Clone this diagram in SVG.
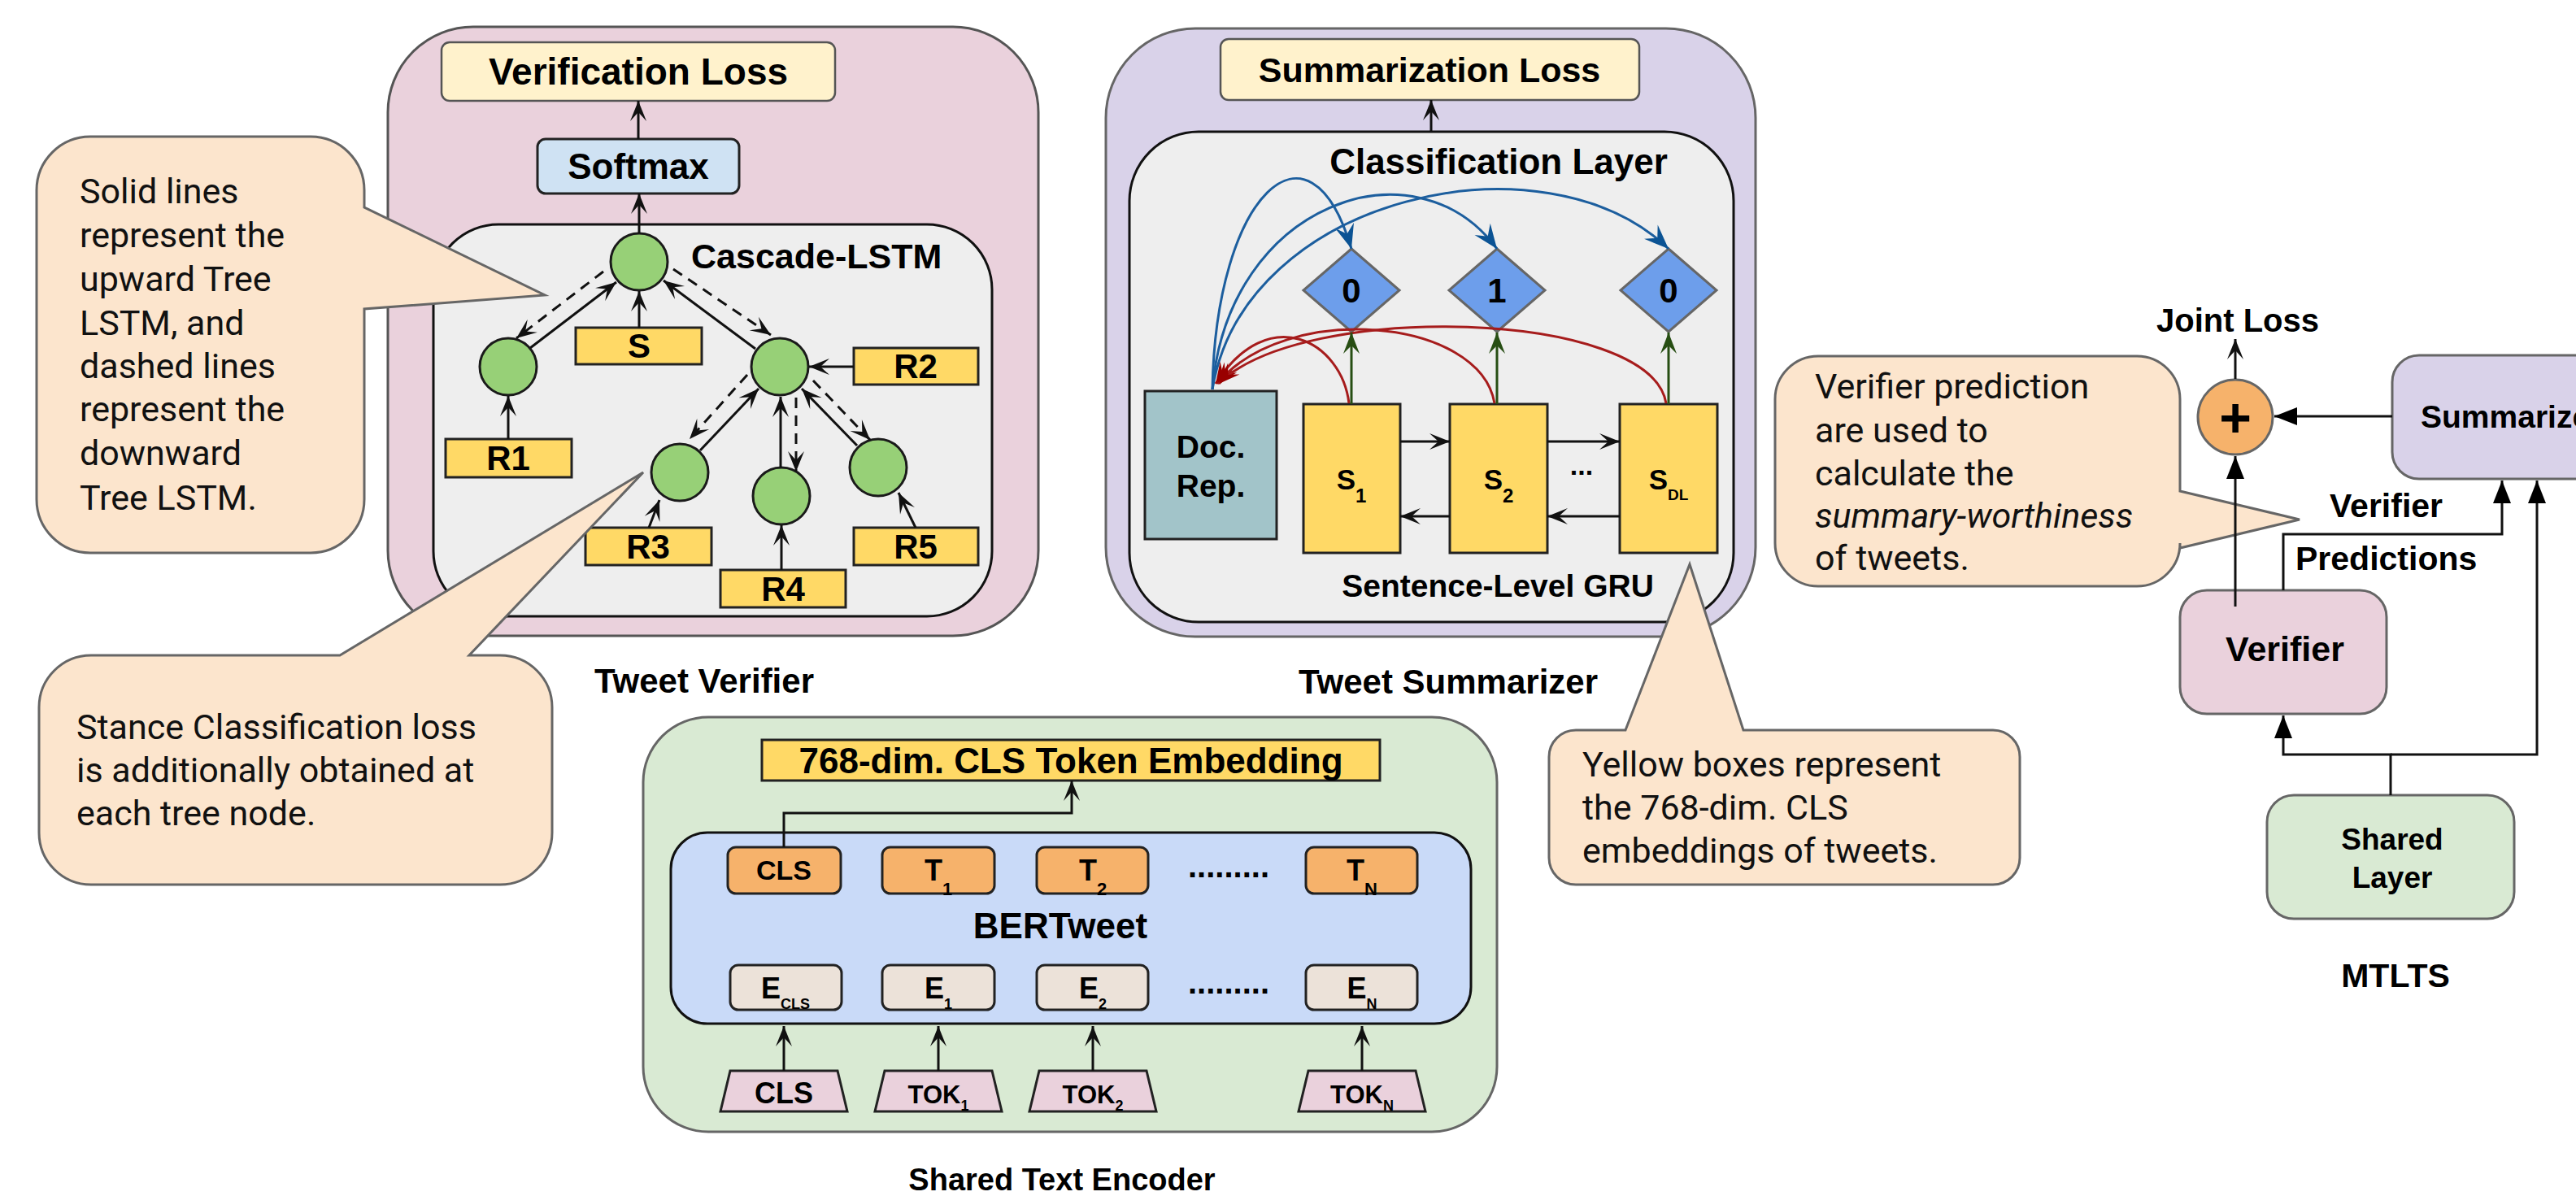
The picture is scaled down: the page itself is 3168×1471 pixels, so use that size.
<svg xmlns="http://www.w3.org/2000/svg" width="3168" height="1471" viewBox="0 0 3168 1471">
  <defs>
    <style>
      .b { font-family: "Liberation Sans", Arial, sans-serif; font-weight: bold; fill: #000; }
      .note { font-family: Roboto, "Noto Sans", sans-serif; font-size: 43px; fill: #111; }
      .ln { fill: none; stroke: #111; stroke-width: 3; }
      .dash { fill: none; stroke: #111; stroke-width: 3; stroke-dasharray: 13 9; }
      .ybox { fill: #FFD966; stroke: #222; stroke-width: 3; }
      .node { fill: #97D077; stroke: #1a1a1a; stroke-width: 3; }
      .callout { fill: #FCE5CD; stroke: #666; stroke-width: 3; }
      .tbox { fill: #F6B26B; stroke: #222; stroke-width: 3; }
      .ebox { fill: #ECE2D9; stroke: #222; stroke-width: 3; }
      .tok { fill: #EAD1DC; stroke: #222; stroke-width: 3; }
      .dia { fill: #6D9EEB; stroke: #666; stroke-width: 3; }
    </style>
    <marker id="arr" markerUnits="userSpaceOnUse" viewBox="-28 -12 30 24" refX="0" refY="0" markerWidth="30" markerHeight="24" orient="auto">
      <path d="M0,0 L-25,-10 L-14,0 L-25,10 Z" fill="#111"/>
    </marker>
    <marker id="arrB" markerUnits="userSpaceOnUse" viewBox="-32 -14 34 28" refX="0" refY="0" markerWidth="34" markerHeight="28" orient="auto">
      <path d="M0,0 L-30,-12 L-19,0 L-30,12 Z" fill="#0B5394"/>
    </marker>
    <marker id="arrG" markerUnits="userSpaceOnUse" viewBox="-30 -13 32 26" refX="0" refY="0" markerWidth="32" markerHeight="26" orient="auto">
      <path d="M0,0 L-26,-10 L-16,0 L-26,10 Z" fill="#274E13"/>
    </marker>
    <marker id="arrR" markerUnits="userSpaceOnUse" viewBox="-30 -13 32 26" refX="0" refY="0" markerWidth="32" markerHeight="26" orient="auto">
      <path d="M0,0 L-26,-10 L-16,0 L-26,10 Z" fill="#990000"/>
    </marker>
    <marker id="blk" markerUnits="userSpaceOnUse" viewBox="-30 -13 32 26" refX="0" refY="0" markerWidth="32" markerHeight="26" orient="auto">
      <path d="M0,0 L-28,-11 L-28,11 Z" fill="#000"/>
    </marker>
  </defs>

  <rect width="3168" height="1471" fill="#fff"/>

  <!-- ============ Tweet Verifier ============ -->
  <g id="tweet-verifier">
    <rect x="477" y="33" width="800" height="749" rx="105" fill="#EAD1DC" stroke="#555" stroke-width="3"/>
    <text class="b" x="866" y="852" font-size="42" text-anchor="middle">Tweet Verifier</text>
  </g>
  <g id="verification-loss">
    <rect x="543" y="52" width="484" height="72" rx="10" fill="#FFF2CC" stroke="#555" stroke-width="2.5"/>
    <text class="b" x="785" y="104" font-size="46" text-anchor="middle">Verification Loss</text>
  </g>
  <g id="softmax">
    <rect x="661" y="171" width="248" height="67" rx="10" fill="#CFE2F3" stroke="#222" stroke-width="3"/>
    <text class="b" x="785" y="220" font-size="44" text-anchor="middle">Softmax</text>
  </g>
  <g id="cascade-lstm">
    <rect x="533" y="276" width="687" height="482" rx="80" fill="#EEEEEE" stroke="#111" stroke-width="3"/>
    <text class="b" x="850" y="330" font-size="43">Cascade-LSTM</text>
  </g>
  <g id="tree-root"><circle class="node" cx="786" cy="322" r="35"/></g>
  <g id="tree-left"><circle class="node" cx="625" cy="451" r="35"/></g>
  <g id="tree-right"><circle class="node" cx="959" cy="451" r="35"/></g>
  <g id="tree-n3"><circle class="node" cx="836" cy="581" r="35"/></g>
  <g id="tree-n4"><circle class="node" cx="961" cy="610" r="35"/></g>
  <g id="tree-n5"><circle class="node" cx="1080" cy="575" r="35"/></g>
  <g id="box-s">
    <rect class="ybox" x="708" y="403" width="155" height="45"/>
    <text class="b" x="786" y="440" font-size="42" text-anchor="middle">S</text>
  </g>
  <g id="box-r1">
    <rect class="ybox" x="548" y="540" width="155" height="47"/>
    <text class="b" x="625" y="578" font-size="42" text-anchor="middle">R1</text>
  </g>
  <g id="box-r2">
    <rect class="ybox" x="1050" y="428" width="153" height="45"/>
    <text class="b" x="1126" y="465" font-size="42" text-anchor="middle">R2</text>
  </g>
  <g id="box-r3">
    <rect class="ybox" x="720" y="649" width="155" height="46"/>
    <text class="b" x="797" y="687" font-size="42" text-anchor="middle">R3</text>
  </g>
  <g id="box-r4">
    <rect class="ybox" x="886" y="701" width="154" height="46"/>
    <text class="b" x="963" y="739" font-size="42" text-anchor="middle">R4</text>
  </g>
  <g id="box-r5">
    <rect class="ybox" x="1050" y="649" width="153" height="46"/>
    <text class="b" x="1126" y="687" font-size="42" text-anchor="middle">R5</text>
  </g>

  <!-- ============ Tweet Summarizer ============ -->
  <g id="tweet-summarizer">
    <rect x="1360" y="35" width="799" height="748" rx="110" fill="#D9D2E9" stroke="#666" stroke-width="3"/>
    <text class="b" x="1781" y="853" font-size="42" text-anchor="middle">Tweet Summarizer</text>
  </g>
  <g id="summarization-loss">
    <rect x="1501" y="48" width="515" height="75" rx="10" fill="#FFF2CC" stroke="#555" stroke-width="2.5"/>
    <text class="b" x="1758" y="101" font-size="43" text-anchor="middle">Summarization Loss</text>
  </g>
  <g id="classification-layer">
    <rect x="1389" y="162" width="743" height="603" rx="85" fill="#EEEEEE" stroke="#111" stroke-width="3"/>
    <text class="b" x="1843" y="214" font-size="44" text-anchor="middle">Classification Layer</text>
    <text class="b" x="1842" y="734" font-size="39" text-anchor="middle">Sentence-Level GRU</text>
  </g>
  <g id="label-1">
    <polygon class="dia" points="1662,306 1721,357 1662,408 1603,357"/>
    <text class="b" x="1662" y="372" font-size="42" text-anchor="middle">0</text>
  </g>
  <g id="label-2">
    <polygon class="dia" points="1841,306 1900,357 1841,408 1782,357"/>
    <text class="b" x="1841" y="372" font-size="42" text-anchor="middle">1</text>
  </g>
  <g id="label-3">
    <polygon class="dia" points="2052,306 2111,357 2052,408 1993,357"/>
    <text class="b" x="2052" y="372" font-size="42" text-anchor="middle">0</text>
  </g>
  <g id="doc-rep">
    <rect x="1408" y="481" width="162" height="182" fill="#A2C4C9" stroke="#222" stroke-width="3"/>
    <text class="b" x="1489" y="563" font-size="39" text-anchor="middle">Doc.</text>
    <text class="b" x="1489" y="611" font-size="39" text-anchor="middle">Rep.</text>
  </g>
  <g id="sent-1">
    <rect class="ybox" x="1603" y="497" width="119" height="183"/>
    <text class="b" x="1662" y="602" font-size="35" text-anchor="middle">S<tspan font-size="24" dy="16">1</tspan></text>
  </g>
  <g id="sent-2">
    <rect class="ybox" x="1783" y="497" width="120" height="183"/>
    <text class="b" x="1843" y="602" font-size="35" text-anchor="middle">S<tspan font-size="24" dy="16">2</tspan></text>
  </g>
  <g id="sent-dl">
    <rect class="ybox" x="1992" y="497" width="120" height="183"/>
    <text class="b" x="2052" y="602" font-size="35" text-anchor="middle">S<tspan font-size="19" dy="13">DL</tspan></text>
  </g>
  <text class="b" x="1945" y="584" font-size="34" text-anchor="middle">...</text>

  <!-- ============ Shared Text Encoder ============ -->
  <g id="shared-text-encoder">
    <rect x="791" y="882" width="1050" height="510" rx="80" fill="#D9EAD3" stroke="#666" stroke-width="3"/>
    <text class="b" x="1306" y="1464" font-size="38" text-anchor="middle">Shared Text Encoder</text>
  </g>
  <g id="cls-embedding">
    <rect class="ybox" x="937" y="910" width="760" height="50"/>
    <text class="b" x="1317" y="951" font-size="44" text-anchor="middle">768-dim. CLS Token Embedding</text>
  </g>
  <g id="bertweet">
    <rect x="825" y="1024" width="984" height="235" rx="45" fill="#C9DAF8" stroke="#111" stroke-width="3"/>
    <text class="b" x="1304" y="1154" font-size="44" text-anchor="middle">BERTweet</text>
    <text class="b" x="1511" y="1079" font-size="40" text-anchor="middle">.........</text>
    <text class="b" x="1511" y="1222" font-size="40" text-anchor="middle">.........</text>
  </g>
  <g id="out-cls">
    <rect class="tbox" x="895" y="1042" width="139" height="57" rx="10"/>
    <text class="b" x="964" y="1082" font-size="34" text-anchor="middle">CLS</text>
  </g>
  <g id="out-t1">
    <rect class="tbox" x="1085" y="1042" width="138" height="57" rx="10"/>
    <text class="b" x="1154" y="1083" font-size="36" text-anchor="middle">T<tspan font-size="22" dy="18">1</tspan></text>
  </g>
  <g id="out-t2">
    <rect class="tbox" x="1275" y="1042" width="137" height="57" rx="10"/>
    <text class="b" x="1344" y="1083" font-size="36" text-anchor="middle">T<tspan font-size="22" dy="18">2</tspan></text>
  </g>
  <g id="out-tn">
    <rect class="tbox" x="1606" y="1042" width="137" height="57" rx="10"/>
    <text class="b" x="1675" y="1083" font-size="36" text-anchor="middle">T<tspan font-size="22" dy="18">N</tspan></text>
  </g>
  <g id="emb-cls">
    <rect class="ebox" x="898" y="1187" width="137" height="55" rx="10"/>
    <text class="b" x="966" y="1228" font-size="36" text-anchor="middle">E<tspan font-size="18" dy="13">CLS</tspan></text>
  </g>
  <g id="emb-1">
    <rect class="ebox" x="1085" y="1187" width="138" height="55" rx="10"/>
    <text class="b" x="1154" y="1228" font-size="36" text-anchor="middle">E<tspan font-size="18" dy="13">1</tspan></text>
  </g>
  <g id="emb-2">
    <rect class="ebox" x="1275" y="1187" width="137" height="55" rx="10"/>
    <text class="b" x="1344" y="1228" font-size="36" text-anchor="middle">E<tspan font-size="18" dy="13">2</tspan></text>
  </g>
  <g id="emb-n">
    <rect class="ebox" x="1606" y="1187" width="137" height="55" rx="10"/>
    <text class="b" x="1675" y="1228" font-size="36" text-anchor="middle">E<tspan font-size="18" dy="13">N</tspan></text>
  </g>
  <g id="tok-cls">
    <polygon class="tok" points="898,1317 1030,1317 1042,1367 886,1367"/>
    <text class="b" x="964" y="1357" font-size="36" text-anchor="middle">CLS</text>
  </g>
  <g id="tok-1">
    <polygon class="tok" points="1088,1317 1220,1317 1232,1367 1076,1367"/>
    <text class="b" x="1154" y="1357" font-size="31" text-anchor="middle">TOK<tspan font-size="18" dy="9">1</tspan></text>
  </g>
  <g id="tok-2">
    <polygon class="tok" points="1278,1317 1410,1317 1422,1367 1266,1367"/>
    <text class="b" x="1344" y="1357" font-size="31" text-anchor="middle">TOK<tspan font-size="18" dy="9">2</tspan></text>
  </g>
  <g id="tok-n">
    <polygon class="tok" points="1609,1317 1741,1317 1753,1367 1597,1367"/>
    <text class="b" x="1675" y="1357" font-size="31" text-anchor="middle">TOK<tspan font-size="18" dy="9">N</tspan></text>
  </g>

  <!-- ============ Notes ============ -->
  <g id="note-tree-lstm">
    <path class="callout" d="M111,168 H382 A66,66 0 0 1 448,234 V255 L670,363 L448,380 V614 A66,66 0 0 1 382,680 H111 A66,66 0 0 1 45,614 V234 A66,66 0 0 1 111,168 Z"/>
    <text class="note" x="98" y="250">Solid lines</text>
    <text class="note" x="98" y="304">represent the</text>
    <text class="note" x="98" y="358">upward Tree</text>
    <text class="note" x="98" y="412">LSTM, and</text>
    <text class="note" x="98" y="465">dashed lines</text>
    <text class="note" x="98" y="518">represent the</text>
    <text class="note" x="98" y="572">downward</text>
    <text class="note" x="98" y="627">Tree LSTM.</text>
  </g>
  <g id="note-stance">
    <path class="callout" d="M112,806 H418 L791,581 L577,806 H615 A64,64 0 0 1 679,870 V1024 A64,64 0 0 1 615,1088 H112 A64,64 0 0 1 48,1024 V870 A64,64 0 0 1 112,806 Z"/>
    <text class="note" x="94" y="909">Stance Classification loss</text>
    <text class="note" x="94" y="962">is additionally obtained at</text>
    <text class="note" x="94" y="1015">each tree node.</text>
  </g>
  <g id="note-yellow">
    <path class="callout" d="M1938,898 H1999 L2078,694 L2144,898 H2451 A33,33 0 0 1 2484,931 V1055 A33,33 0 0 1 2451,1088 H1938 A33,33 0 0 1 1905,1055 V931 A33,33 0 0 1 1938,898 Z"/>
    <text class="note" x="1946" y="955">Yellow boxes represent</text>
    <text class="note" x="1946" y="1008">the 768-dim. CLS</text>
    <text class="note" x="1946" y="1061">embeddings of tweets.</text>
  </g>

  <!-- ============ MTLTS overview ============ -->
  <g id="joint-loss">
    <circle cx="2749" cy="513" r="46" fill="#F6B26B" stroke="#666" stroke-width="3"/>
    <text class="b" x="2749" y="537" font-size="68" text-anchor="middle">+</text>
    <text class="b" x="2752" y="408" font-size="40" text-anchor="middle">Joint Loss</text>
  </g>
  <g id="summarizer">
    <rect x="2942" y="437" width="320" height="152" rx="33" fill="#D9D2E9" stroke="#666" stroke-width="3"/>
    <text class="b" x="2977" y="526" font-size="39">Summarizer</text>
  </g>
  <g id="verifier">
    <rect x="2681" y="726" width="254" height="152" rx="33" fill="#EAD1DC" stroke="#666" stroke-width="3"/>
    <text class="b" x="2810" y="813" font-size="43" text-anchor="middle">Verifier</text>
  </g>
  <g id="shared-layer">
    <rect x="2788" y="978" width="304" height="152" rx="33" fill="#D9EAD3" stroke="#666" stroke-width="3"/>
    <text class="b" x="2942" y="1045" font-size="37" text-anchor="middle">Shared</text>
    <text class="b" x="2942" y="1092" font-size="37" text-anchor="middle">Layer</text>
    <text class="b" x="2946" y="1214" font-size="41" text-anchor="middle">MTLTS</text>
  </g>
  <g id="note-verifier">
    <path class="callout" d="M2236,438 H2628 A53,53 0 0 1 2681,491 V604 L2828,639 L2681,674 V668 A53,53 0 0 1 2628,721 H2236 A53,53 0 0 1 2183,668 V491 A53,53 0 0 1 2236,438 Z"/>
    <text class="note" x="2232" y="490">Verifier prediction</text>
    <text class="note" x="2232" y="544">are used to</text>
    <text class="note" x="2232" y="597">calculate the</text>
    <text class="note" x="2232" y="649" font-style="italic">summary-worthiness</text>
    <text class="note" x="2232" y="701">of tweets.</text>
  </g>

  <!-- ============ Connectors ============ -->
  <g id="connectors">
    <!-- verifier stack -->
    <line class="ln" x1="785" y1="171" x2="785" y2="124" marker-end="url(#arr)"/>
    <line class="ln" x1="786" y1="287" x2="786" y2="238" marker-end="url(#arr)"/>
    <!-- cascade tree: solid = upward, dashed = downward -->
    <line class="ln" x1="652" y1="428" x2="758" y2="347" marker-end="url(#arr)"/>
    <line class="dash" x1="742" y1="334" x2="635" y2="416" marker-end="url(#arr)"/>
    <line class="ln" x1="929" y1="429" x2="816" y2="345" marker-end="url(#arr)"/>
    <line class="dash" x1="828" y1="331" x2="948" y2="412" marker-end="url(#arr)"/>
    <line class="ln" x1="786" y1="403" x2="786" y2="358" marker-end="url(#arr)"/>
    <line class="ln" x1="1050" y1="451" x2="995" y2="451" marker-end="url(#arr)"/>
    <line class="ln" x1="861" y1="554" x2="933" y2="478" marker-end="url(#arr)"/>
    <line class="dash" x1="919" y1="461" x2="848" y2="540" marker-end="url(#arr)"/>
    <line class="ln" x1="960" y1="575" x2="960" y2="488" marker-end="url(#arr)"/>
    <line class="dash" x1="979" y1="489" x2="979" y2="580" marker-end="url(#arr)"/>
    <line class="ln" x1="1054" y1="548" x2="986" y2="478" marker-end="url(#arr)"/>
    <line class="dash" x1="1000" y1="468" x2="1070" y2="541" marker-end="url(#arr)"/>
    <line class="ln" x1="625" y1="540" x2="625" y2="487" marker-end="url(#arr)"/>
    <line class="ln" x1="798" y1="649" x2="811" y2="615" marker-end="url(#arr)"/>
    <line class="ln" x1="961" y1="701" x2="961" y2="646" marker-end="url(#arr)"/>
    <line class="ln" x1="1126" y1="649" x2="1105" y2="606" marker-end="url(#arr)"/>

    <!-- summarizer -->
    <line class="ln" x1="1760" y1="162" x2="1760" y2="123" marker-end="url(#arr)"/>
    <path d="M1491,479 C1495,240 1610,130 1662,306" fill="none" stroke="#1C5E9E" stroke-width="3" marker-end="url(#arrB)"/>
    <path d="M1491,479 C1510,250 1740,170 1841,306" fill="none" stroke="#1C5E9E" stroke-width="3" marker-end="url(#arrB)"/>
    <path d="M1491,479 C1530,240 1900,160 2052,306" fill="none" stroke="#1C5E9E" stroke-width="3" marker-end="url(#arrB)"/>
    <path d="M1659,496 C1650,420 1560,370 1495,472" fill="none" stroke="#A61C1C" stroke-width="3" marker-end="url(#arrR)"/>
    <path d="M1838,496 C1820,390 1580,370 1497,472" fill="none" stroke="#A61C1C" stroke-width="3" marker-end="url(#arrR)"/>
    <path d="M2049,496 C2030,380 1600,370 1499,472" fill="none" stroke="#A61C1C" stroke-width="3" marker-end="url(#arrR)"/>
    <line x1="1662" y1="497" x2="1662" y2="409" stroke="#274E13" stroke-width="3" marker-end="url(#arrG)"/>
    <line x1="1841" y1="497" x2="1841" y2="409" stroke="#274E13" stroke-width="3" marker-end="url(#arrG)"/>
    <line x1="2052" y1="497" x2="2052" y2="409" stroke="#274E13" stroke-width="3" marker-end="url(#arrG)"/>
    <line class="ln" x1="1722" y1="543" x2="1783" y2="543" marker-end="url(#arr)"/>
    <line class="ln" x1="1903" y1="543" x2="1992" y2="543" marker-end="url(#arr)"/>
    <line class="ln" x1="1783" y1="635" x2="1722" y2="635" marker-end="url(#arr)"/>
    <line class="ln" x1="1992" y1="635" x2="1903" y2="635" marker-end="url(#arr)"/>

    <!-- encoder -->
    <polyline class="ln" points="964,1042 964,1000 1318,1000 1318,960" marker-end="url(#arr)"/>
    <line class="ln" x1="964" y1="1317" x2="964" y2="1262" marker-end="url(#arr)"/>
    <line class="ln" x1="1154" y1="1317" x2="1154" y2="1262" marker-end="url(#arr)"/>
    <line class="ln" x1="1344" y1="1317" x2="1344" y2="1262" marker-end="url(#arr)"/>
    <line class="ln" x1="1675" y1="1317" x2="1675" y2="1262" marker-end="url(#arr)"/>

    <!-- MTLTS -->
    <line class="ln" x1="2749" y1="466" x2="2749" y2="417" marker-end="url(#arr)"/>
    <line class="ln" x1="2942" y1="512" x2="2797" y2="512" marker-end="url(#blk)"/>
    <line class="ln" x1="2749" y1="746" x2="2749" y2="561" marker-end="url(#blk)"/>
    <polyline class="ln" points="2808,726 2808,657 3077,657 3077,591" marker-end="url(#blk)"/>
    <polyline class="ln" points="2940,978 2940,928 2808,928 2808,880" marker-end="url(#blk)"/>
    <polyline class="ln" points="2940,928 3120,928 3120,591" marker-end="url(#blk)"/>
    <text class="b" x="2865" y="636" font-size="41">Verifier</text>
    <text class="b" x="2823" y="701" font-size="41">Predictions</text>
  </g>
</svg>
